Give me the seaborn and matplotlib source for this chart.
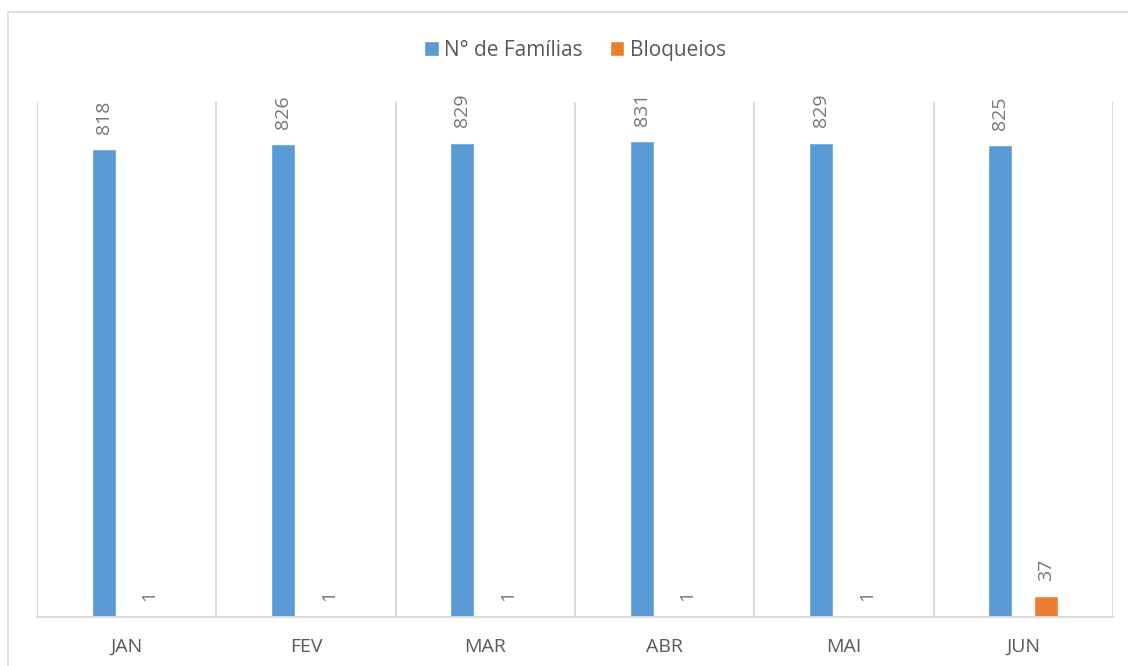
import pandas as pd
import matplotlib.pyplot as plt
import seaborn as sns
from matplotlib.patches import Rectangle

# Chart data
meses = ['JAN', 'FEV', 'MAR', 'ABR', 'MAI', 'JUN']
familias = [818, 826, 829, 831, 829, 825]
bloqueios = [1, 1, 1, 1, 1, 37]

df = pd.DataFrame({
    'Mês': meses * 2,
    'Valor': familias + bloqueios,
    'Série': ['N° de Famílias'] * len(meses) + ['Bloqueios'] * len(meses),
})

sns.set_style('white')
plt.rcParams['font.family'] = ['Open Sans', 'DejaVu Sans']

fig = plt.figure(figsize=(11.28, 6.66), dpi=100)
ax = fig.add_axes([37 / 1128, 1 - 617 / 666, (1113 - 37) / 1128, (617 - 102) / 666])

# outer chart border (cut off at right/bottom like the original)
fig.patches.append(Rectangle((8 / 1128, -0.05), 1.2, 1 - 12 / 666 + 0.05,
                             transform=fig.transFigure, fill=False,
                             edgecolor='#d9d9d9', linewidth=1.2, zorder=0))

sns.barplot(data=df, x='Mês', y='Valor', hue='Série', ax=ax,
            palette=['#5B9BD5', '#ED7D31'], width=0.512, gap=0.48,
            saturation=1, errorbar=None)

for cont in ax.containers:
    ax.bar_label(cont, rotation=90, padding=11, fontsize=14, color='#767676')

ax.set_ylim(0, 900)
ax.set_xlim(-0.5, len(meses) - 0.5)
ax.set_yticks([])
ax.set_xlabel('')
ax.set_ylabel('')

# category separators
ax.set_xticks([i - 0.5 for i in range(len(meses) + 1)], minor=True)
ax.grid(True, axis='x', which='minor', color='#d9d9d9', linewidth=1.4)
ax.tick_params(axis='x', which='both', length=0, pad=15, labelsize=14,
               labelcolor='#595959')

for s in ['top', 'right', 'left']:
    ax.spines[s].set_visible(False)
ax.spines['bottom'].set_color('#d9d9d9')
ax.spines['bottom'].set_linewidth(1.4)

leg = ax.legend(loc='center', bbox_to_anchor=(0.5, 1 + (102 - 50) / 515),
                ncol=2, frameon=False, fontsize=15, handlelength=0.7,
                handleheight=0.7, handletextpad=0.25, columnspacing=1.3,
                labelcolor='#595959')

fig.savefig('out.png', dpi=100)
